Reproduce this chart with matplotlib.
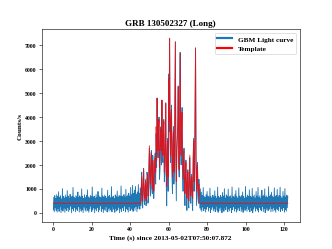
import numpy as np
import matplotlib
matplotlib.use('Agg')
import matplotlib.pyplot as plt

plt.rcParams['font.family'] = 'serif'
plt.rcParams['font.serif'] = ['Liberation Serif', 'DejaVu Serif']
plt.rcParams['font.weight'] = 'bold'
plt.rcParams['axes.titleweight'] = 'bold'
plt.rcParams['axes.labelweight'] = 'bold'

# light curve bins, 0.25 s wide, starting at t = 0
bin_width = 0.25

# background before the burst (0 - 45.25 s)
counts_pre = [
    120, 650, 40, 720, 210, 600, 90, 760, 30, 690,
    180, 880, 60, 640, 250, 710, 10, 580, 140, 1010,
    70, 680, 200, 620, 20, 740, 160, 650, 90, 930,
    230, 700, 50, 610, 130, 770, 280, 640, 0, 690,
    170, 1060, 80, 660, 220, 590, 40, 720, 150, 680,
    100, 870, 260, 630, 30, 710, 190, 650, 70, 1000,
    140, 690, 10, 600, 240, 750, 110, 640, 60, 720,
    200, 960, 90, 670, 20, 620, 170, 730, 270, 680,
    50, 1080, 130, 650, 210, 700, 0, 590, 160, 760,
    80, 640, 230, 890, 40, 710, 120, 660, 290, 620,
    60, 1030, 180, 700, 10, 650, 140, 740, 90, 690,
    250, 610, 30, 940, 170, 680, 70, 720, 200, 630,
    110, 1090, 40, 660, 260, 700, 150, 590, 20, 750,
    190, 680, 80, 910, 130, 640, 230, 720, 0, 670,
    160, 1120, 60, 700, 210, 620, 100, 760, 280, 650,
    40, 980, 170, 690, 120, 740, 30, 820, 250, 700,
    90, 1060, 200, 760, 140, 1150, 60, 800, 220, 950,
    110, 1100, 270, 780, 50, 870, 180, 1180, 300, 820,
    150, 1040,
]

# burst (45.5 - 76 s), data
counts_burst = [
    300, 1100, 1700, 300, 200, 1400, 1850, 500, 350, 900,
    1400, 300, 500, 1700, 1500, 400, 600, 2100, 2700, 1100,
    700, 2300, 2600, 1000, 800, 2400, 1700, 600, 1100, 2200,
    2500, 1200, 3300, 1900, 4800, 2700, 2300, 3700, 4000, 1400,
    1800, 3300, 3600, 2000, 4700, 2600, 2100, 3500, 3900, 1300,
    1600, 3100, 4600, 1200, 300, 2700, 3100, 900, 5800, 3400,
    7300, 3000, 2100, 4100, 4500, 1500, 800, 3000, 3600, 1200,
    1900, 4800, 7150, 2300, 500, 2700, 3200, 3600, 5300, 2000,
    1500, 4500, 6700, 2700, 2000, 3900, 4400, 1800, 900, 2300,
    2700, 900, 300, 1900, 2200, 700, 100, 1500, 1800, 400,
    200, 1700, 2300, 700, 400, 1500, 1600, 400, 100, 2300,
    3100, 900, 1500, 4300, 6900, 2100, 300, 1900, 2100, 600,
    400, 1400, 900,
]

# background after the burst (76.25 - 122 s)
counts_post = [
    200, 1000, 120, 860, 60, 720, 240, 1050, 90, 680,
    180, 650, 30, 760, 150, 890, 260, 700, 70, 640,
    210, 1030, 10, 690, 130, 620, 240, 740, 80, 660,
    170, 920, 50, 700, 280, 610, 110, 1070, 20, 680,
    190, 640, 90, 730, 230, 660, 0, 850, 140, 700,
    60, 1010, 200, 620, 120, 750, 270, 680, 40, 990,
    160, 650, 80, 710, 220, 600, 10, 1080, 130, 690,
    250, 640, 70, 760, 180, 930, 30, 680, 110, 620,
    200, 1040, 90, 700, 260, 660, 50, 730, 150, 870,
    20, 690, 230, 610, 100, 1100, 170, 650, 60, 740,
    280, 680, 130, 960, 40, 700, 210, 630, 90, 1020,
    0, 670, 160, 750, 240, 620, 70, 890, 190, 700,
    110, 1060, 30, 650, 220, 720, 140, 600, 80, 940,
    260, 690, 50, 740, 180, 1000, 10, 660, 120, 710,
    200, 630, 90, 1090, 150, 680, 270, 750, 40, 860,
    170, 700, 60, 640, 230, 1040, 110, 690, 20, 720,
    190, 980, 140, 660, 80, 730, 250, 1070, 50, 680,
    160, 620, 100, 890, 220, 700, 30, 1010, 130, 650,
    70, 740, 210, 690,
]

# template: flat background level plus burst shape
template_bkg = 400
template_burst = [
    400, 900, 1500, 500, 700, 1200, 1800, 800, 600, 1100,
    1300, 500, 900, 1400, 1600, 700, 800, 1900, 2800, 1500,
    1200, 2000, 2500, 1400, 1000, 2200, 1900, 900, 1300, 2000,
    2300, 1700, 3600, 2200, 4780, 3100, 2600, 3400, 3900, 1900,
    2200, 3000, 3500, 2600, 4710, 3000, 2400, 3300, 3800, 1700,
    2000, 2900, 4570, 1800, 1100, 2400, 3000, 1500, 5600, 3800,
    7275, 3500, 2400, 3900, 4300, 2000, 1500, 2800, 3400, 1700,
    2200, 4600, 7135, 2800, 1300, 2500, 3000, 3900, 5260, 2500,
    1800, 4200, 6680, 3100, 2400, 3600, 4200, 2300, 1400, 2000,
    2600, 1300, 800, 1600, 2100, 1100, 600, 1300, 1700, 800,
    500, 1500, 2400, 1100, 700, 1300, 1500, 800, 600, 2000,
    3000, 1300, 1800, 4500, 6860, 2500, 900, 1600, 2000, 1000,
    700, 1200, 400,
]

counts = np.array(counts_pre + counts_burst + counts_post)
template = np.array([template_bkg] * len(counts_pre) + template_burst
                    + [template_bkg] * len(counts_post))
t = np.arange(len(counts)) * bin_width

fig = plt.figure(figsize=(6.4, 4.8), dpi=52)
ax = fig.add_subplot(111)
ax.plot(t, counts, color='#1f77b4', lw=1.2, label='GBM Light curve')
ax.plot(t, template, color='red', lw=1.3, alpha=0.8, label='Template')

ax.set_title('GRB 130502327 (Long)', fontsize=12.5)
ax.set_xlabel('Time (s) since 2013-05-02T07:50:07.872', fontsize=10)
ax.set_ylabel('Counts/s', fontsize=10)
ax.tick_params(labelsize=8)
ax.set_xticks([0, 20, 40, 60, 80, 100, 120])

leg = ax.legend(loc='upper right', fontsize=10)
for line in leg.get_lines():
    line.set_linewidth(3)
    line.set_alpha(1.0)

fig.savefig('out.png', dpi=52)
